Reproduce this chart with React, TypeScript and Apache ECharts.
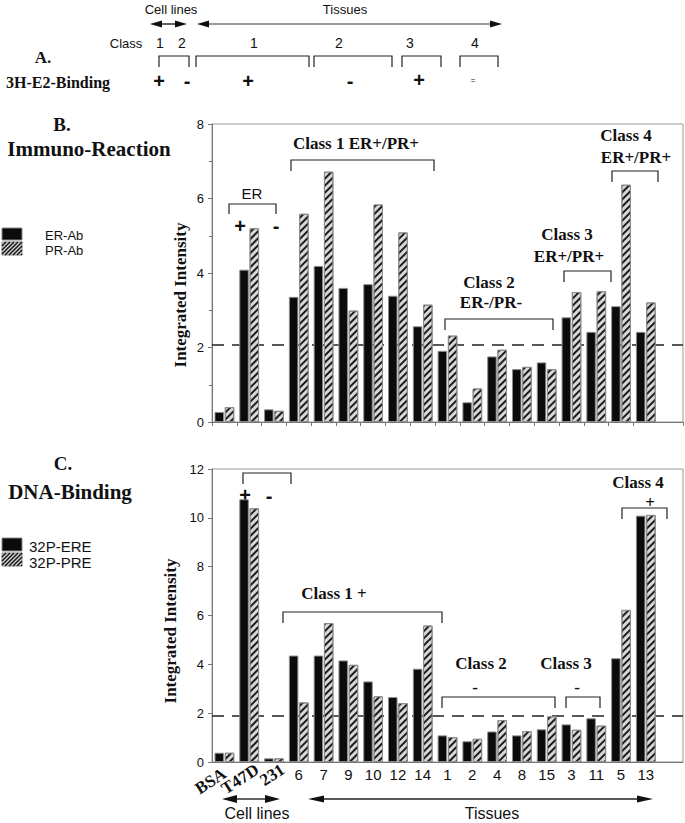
import React, { useEffect, useRef } from "react";
import * as echarts from "echarts";

const categories = ["BSA", "T47D", "231", "6", "7", "9", "10", "12", "14", "1", "2", "4", "8", "15", "3", "11", "5", "13"];
const axisCats = [...categories, ""];
const cellLineCount = 3;

const erAb = [0.27, 4.09, 0.34, 3.36, 4.19, 3.6, 3.7, 3.39, 2.57, 1.91, 0.53, 1.76, 1.42, 1.6, 2.81, 2.42, 3.11, 2.42];
const prAb = [0.4, 5.2, 0.3, 5.59, 6.72, 2.99, 5.84, 5.09, 3.15, 2.32, 0.9, 1.94, 1.48, 1.42, 3.49, 3.51, 6.37, 3.21];
const ere = [0.38, 10.76, 0.15, 4.36, 4.36, 4.16, 3.3, 2.66, 3.82, 1.09, 0.85, 1.25, 1.09, 1.34, 1.54, 1.79, 4.25, 10.09];
const pre = [0.38, 10.39, 0.15, 2.44, 5.69, 3.98, 2.69, 2.41, 5.59, 1.02, 0.95, 1.72, 1.27, 1.87, 1.32, 1.49, 6.23, 10.12];

const immunoThreshold = 2.07;
const dnaThreshold = 1.9;

const SANS = "Liberation Sans, Arial, Helvetica, sans-serif";
const SERIF = "Liberation Serif, Times New Roman, serif";
const INK = "#111";

const blackStyle = { color: "#0b0b0b", borderColor: "#8c8c8c", borderWidth: 1 };
const hatchStyle = {
  color: "#d8d8d8",
  borderColor: "#8c8c8c",
  borderWidth: 1,
  decal: {
    symbol: "rect",
    symbolSize: 1,
    color: "#1c1c1c",
    dashArrayX: [1, 0],
    dashArrayY: [2, 2.2],
    rotation: -Math.PI / 4,
  },
};

function txt(x: number, y: number, text: string, o: any = {}) {
  return {
    type: "text",
    x,
    y,
    rotation: o.rotation || 0,
    silent: true,
    style: {
      text,
      fill: INK,
      fontFamily: o.family || SANS,
      fontSize: o.size || 14,
      fontWeight: o.weight || "normal",
      align: o.align || "center",
      verticalAlign: "middle",
    },
  };
}
function seg(x1: number, y1: number, x2: number, y2: number, stroke = "#222", w = 1.2) {
  return { type: "line", silent: true, shape: { x1, y1, x2, y2 }, style: { stroke, lineWidth: w } };
}
function bracket(x1: number, x2: number, yt: number, yb: number) {
  return {
    type: "polyline",
    silent: true,
    shape: { points: [[x1, yb], [x1, yt], [x2, yt], [x2, yb]] },
    style: { stroke: "#222", lineWidth: 1.2, fill: null },
  };
}
function arrow(x1: number, x2: number, y: number, L: number, H: number, shaft = "#222") {
  return [
    seg(x1 + L - 2, y, x2 - L + 2, y, shaft, 1.4),
    { type: "polygon", silent: true, shape: { points: [[x1, y], [x1 + L, y - H / 2], [x1 + L, y + H / 2]] }, style: { fill: "#111" } },
    { type: "polygon", silent: true, shape: { points: [[x2, y], [x2 - L, y - H / 2], [x2 - L, y + H / 2]] }, style: { fill: "#111" } },
  ];
}
function hatchSwatch(x0: number, y0: number, w: number, h: number) {
  const els: any[] = [{ type: "rect", silent: true, shape: { x: x0, y: y0, width: w, height: h }, style: { fill: "#d8d8d8", stroke: "#888", lineWidth: 1 } }];
  const y1 = y0 + h;
  for (let c = x0 - h; c < x0 + w; c += 4) {
    let sx = c, sy = y1, ex = c + h, ey = y0;
    if (sx < x0) { sy = y1 - (x0 - sx); sx = x0; }
    if (ex > x0 + w) { ey = y0 + (ex - (x0 + w)); ex = x0 + w; }
    els.push(seg(sx, sy, ex, ey, "#1c1c1c", 1.6));
  }
  return els;
}
function blackSwatch(x: number, y: number, w: number, h: number) {
  return { type: "rect", silent: true, shape: { x, y, width: w, height: h }, style: { fill: "#0b0b0b", stroke: "#888", lineWidth: 1 } };
}

const B = { family: SERIF, weight: "bold" };

function buildGraphics() {
  const g: any[] = [];
  // Header (A)
  g.push(txt(171, 9, "Cell lines", { size: 13 }));
  g.push(txt(345, 9, "Tissues", { size: 13 }));
  g.push(...arrow(150, 187, 24, 12, 7));
  g.push(...arrow(197, 502, 24, 12, 7, "#777"));
  g.push(txt(126, 43, "Class", { size: 13 }));
  [[160, "1"], [182, "2"], [254, "1"], [339, "2"], [410, "3"], [475, "4"]].forEach(([x, t]) =>
    g.push(txt(x as number, 43, t as string, { size: 14 }))
  );
  [[159, 189], [196, 309], [314, 392], [402, 441], [460, 498]].forEach(([a, b]) => g.push(bracket(a, b, 56, 67)));
  g.push(txt(159, 81, "+", { size: 20, weight: "bold" }));
  g.push(txt(187, 81, "-", { size: 20, weight: "bold" }));
  g.push(txt(248, 81, "+", { size: 20, weight: "bold" }));
  g.push(txt(350, 81, "-", { size: 20, weight: "bold" }));
  g.push(txt(419, 80, "+", { size: 20, weight: "bold" }));
  g.push(txt(473, 80, "=", { size: 8 }));
  g.push(txt(43, 57, "A.", { ...B, size: 17 }));
  g.push(txt(6, 82, "3H-E2-Binding", { ...B, size: 16, align: "left" }));

  // Panel B
  g.push(txt(62, 124, "B.", { ...B, size: 19 }));
  g.push(txt(89, 149, "Immuno-Reaction", { ...B, size: 21 }));
  g.push(blackSwatch(2, 228, 20, 12));
  g.push(...hatchSwatch(2, 242, 20, 13));
  g.push(txt(45, 235, "ER-Ab", { size: 13, align: "left" }));
  g.push(txt(45, 250, "PR-Ab", { size: 13, align: "left" }));
  g.push(txt(180, 295, "Integrated Intensity", { ...B, size: 17, rotation: Math.PI / 2 }));
  g.push(txt(252, 193, "ER", { size: 15 }));
  g.push(bracket(229, 276, 204, 214));
  g.push(txt(240, 226, "+", { size: 20, weight: "bold" }));
  g.push(txt(276, 226, "-", { size: 20, weight: "bold" }));
  g.push(txt(356, 143, "Class 1 ER+/PR+", { ...B, size: 17 }));
  g.push(bracket(291, 434, 160, 171));
  g.push(txt(489, 282, "Class 2", { ...B, size: 17 }));
  g.push(txt(491, 302, "ER-/PR-", { ...B, size: 17 }));
  g.push(bracket(445, 553, 319, 330));
  g.push(txt(567, 234, "Class 3", { ...B, size: 17 }));
  g.push(txt(569, 256, "ER+/PR+", { ...B, size: 17 }));
  g.push(bracket(564, 611, 271, 282));
  g.push(txt(626, 135, "Class 4", { ...B, size: 17 }));
  g.push(txt(636, 157, "ER+/PR+", { ...B, size: 17 }));
  g.push(bracket(612, 658, 171, 182));

  // Panel C
  g.push(txt(63, 463, "C.", { ...B, size: 19 }));
  g.push(txt(70, 492, "DNA-Binding", { ...B, size: 21 }));
  g.push(blackSwatch(2, 538, 20, 13));
  g.push(...hatchSwatch(2, 553, 20, 13));
  g.push(txt(29, 546, "32P-ERE", { size: 15, align: "left" }));
  g.push(txt(29, 562, "32P-PRE", { size: 15, align: "left" }));
  g.push(txt(170, 631, "Integrated Intensity", { ...B, size: 17, rotation: Math.PI / 2 }));
  g.push(bracket(243, 291, 473, 484));
  g.push(txt(245, 495, "+", { size: 20, weight: "bold" }));
  g.push(txt(269, 496, "-", { size: 20, weight: "bold" }));
  g.push(txt(334, 593, "Class 1 +", { ...B, size: 17 }));
  g.push(bracket(283, 442, 612, 623));
  g.push(txt(481, 663, "Class 2", { ...B, size: 17 }));
  g.push(txt(475, 687, "-", { ...B, size: 17 }));
  g.push(bracket(442, 555, 697, 708));
  g.push(txt(566, 663, "Class 3", { ...B, size: 17 }));
  g.push(txt(577, 687, "-", { ...B, size: 17 }));
  g.push(bracket(566, 600, 697, 708));
  g.push(txt(638, 482, "Class 4", { ...B, size: 17 }));
  g.push(txt(650, 502, "+", { ...B, size: 17 }));
  g.push(bracket(622, 667, 508, 519));
  g.push(...arrow(222, 280, 799, 15, 8));
  g.push(...arrow(308, 653, 799, 16, 7));
  g.push(txt(257, 813, "Cell lines", { size: 16 }));
  g.push(txt(492, 813, "Tissues", { size: 16 }));
  return g;
}

// nudges of the slanted cell-line labels relative to their category centre
const slantDx = [0, 8, 9];
const slantDy = [10, 6, 6];

export default function App() {
  const ref = useRef<HTMLDivElement>(null);
  useEffect(() => {
    if (!ref.current) return;
    const chart = echarts.init(ref.current, null, { renderer: "svg" });
    const axisLineStyle = { color: "#777", width: 1 };
    const yLabel = { color: INK, fontFamily: SANS, fontSize: 13, margin: 8 };
    const option: any = {
      animation: false,
      backgroundColor: "#fff",
      grid: [
        { left: 212, top: 124, width: 471, height: 298, show: true, borderColor: "#999", borderWidth: 1, backgroundColor: "transparent" },
        { left: 212, top: 469, width: 471, height: 293, show: true, borderColor: "#999", borderWidth: 1, backgroundColor: "transparent" },
      ],
      xAxis: [
        {
          gridIndex: 0,
          type: "category",
          data: axisCats,
          axisLine: { lineStyle: axisLineStyle },
          axisTick: { show: true, length: 4, interval: (i: number) => i < categories.length, lineStyle: { color: "#777" } },
          axisLabel: { show: false },
        },
        {
          gridIndex: 1,
          type: "category",
          data: axisCats,
          position: "bottom",
          axisLine: { lineStyle: axisLineStyle },
          axisTick: { show: false },
          axisLabel: {
            interval: 0,
            margin: 5,
            color: INK,
            fontFamily: SANS,
            fontSize: 15,
            formatter: (v: string, i: number) => (i >= cellLineCount ? v : ""),
          },
        },
      ],
      yAxis: [
        {
          gridIndex: 0,
          type: "value",
          min: 0,
          max: 8,
          interval: 2,
          axisLine: { show: true, lineStyle: axisLineStyle },
          axisTick: { show: true, length: 4, lineStyle: { color: "#777" } },
          minorTick: { show: true, splitNumber: 2, length: 3, lineStyle: { color: "#777" } },
          splitLine: { show: false },
          axisLabel: yLabel,
        },
        {
          gridIndex: 1,
          type: "value",
          min: 0,
          max: 12,
          interval: 2,
          axisLine: { show: true, lineStyle: axisLineStyle },
          axisTick: { show: true, length: 4, lineStyle: { color: "#777" } },
          splitLine: { show: false },
          axisLabel: yLabel,
        },
      ],
      series: [
        {
          name: "ER-Ab",
          type: "bar",
          xAxisIndex: 0,
          yAxisIndex: 0,
          data: erAb,
          barWidth: 9.5,
          barGap: "8%",
          itemStyle: blackStyle,
          markLine: {
            z: 1,
            silent: true,
            symbol: ["none", "none"],
            label: { show: false },
            lineStyle: { type: [12, 8], color: "#222", width: 1.5 },
            data: [{ yAxis: immunoThreshold }],
          },
        },
        { name: "PR-Ab", type: "bar", xAxisIndex: 0, yAxisIndex: 0, data: prAb, barWidth: 9.5, barGap: "8%", itemStyle: hatchStyle },
        {
          name: "32P-ERE",
          type: "bar",
          xAxisIndex: 1,
          yAxisIndex: 1,
          data: ere,
          barWidth: 9.5,
          barGap: "8%",
          itemStyle: blackStyle,
          markLine: {
            z: 1,
            silent: true,
            symbol: ["none", "none"],
            label: { show: false },
            lineStyle: { type: [12, 8], color: "#222", width: 1.5 },
            data: [{ yAxis: dnaThreshold }],
          },
        },
        { name: "32P-PRE", type: "bar", xAxisIndex: 1, yAxisIndex: 1, data: pre, barWidth: 9.5, barGap: "8%", itemStyle: hatchStyle },
      ],
      graphic: buildGraphics(),
    };
    chart.setOption(option);

    // slanted cell-line tick labels, placed through the axis scale
    const slanted: any[] = [];
    for (let i = 0; i < cellLineCount; i++) {
      const p = chart.convertToPixel({ xAxisIndex: 1, yAxisIndex: 1 }, [i, 0]) as number[];
      slanted.push({
        type: "text",
        x: p[0] + slantDx[i],
        y: p[1] + slantDy[i],
        rotation: (33 * Math.PI) / 180,
        silent: true,
        style: {
          text: categories[i],
          fill: INK,
          fontFamily: SERIF,
          fontWeight: "bold",
          fontSize: 17,
          align: "right",
          verticalAlign: "middle",
        },
      });
    }
    chart.setOption({ graphic: [...buildGraphics(), ...slanted] }, { replaceMerge: ["graphic"] });
    return () => chart.dispose();
  }, []);
  return <div ref={ref} style={{ position: "fixed", left: 0, top: 0, width: 685, height: 823 }} />;
}
